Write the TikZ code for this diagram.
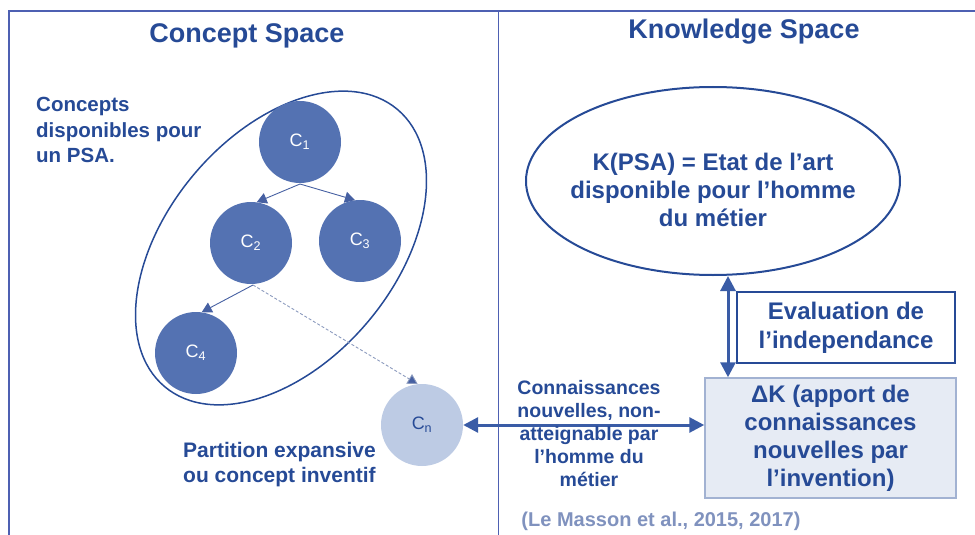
\documentclass[tikz,border=0pt]{standalone}
\usepackage{fontspec}
\setmainfont{Liberation Sans}
\usetikzlibrary{arrows.meta,shapes.geometric}
\definecolor{txtblue}{RGB}{38,74,150}
\definecolor{framecol}{RGB}{78,96,178}
\definecolor{circfill}{RGB}{84,114,178}
\definecolor{lightcirc}{RGB}{189,203,228}
\definecolor{citecol}{RGB}{128,146,190}
\definecolor{dkfill}{RGB}{230,235,244}
\definecolor{dkborder}{RGB}{162,178,210}
\definecolor{arrblue}{RGB}{58,92,166}
\definecolor{linkcol}{RGB}{70,96,162}
\definecolor{dashcol}{RGB}{140,155,190}
\newcommand{\fsz}[2]{\fontsize{#1}{#2}\selectfont}
\tikzset{
  title/.style={font=\bfseries\fsz{27}{32}, text=txtblue, inner sep=0},
  lbl/.style={font=\bfseries\fsz{20.5}{25.5}, text=txtblue, inner sep=0},
  concept/.style={circle, fill=circfill, minimum size=82pt, inner sep=0, text=white, font=\fsz{18}{20}},
  newconcept/.style={circle, fill=lightcirc, minimum size=82pt, inner sep=0, text=txtblue, font=\fsz{18}{20}},
  link/.style={draw=linkcol, line width=0.9pt, -{Triangle[length=10pt,width=11pt]}},
  biarrow/.style={draw=arrblue, line width=3pt, {Triangle[length=15pt,width=15pt]}-{Triangle[length=15pt,width=15pt]}}
}
\begin{document}
\begin{tikzpicture}[x=1pt,y=-1pt]
\useasboundingbox (0,0) rectangle (975,535);
% frame
\draw[framecol, line width=1.4pt] (9,535) -- (9,11) -- (975,11);
\draw[framecol, line width=1pt] (498,11) -- (498,535);
% titles
\node[title] (tc) at (247,36) {Concept Space};
\node[title] (tk) at (744,32) {Knowledge Space};
% concept space
\node[lbl, anchor=west, align=left] (cdisp) at (36,130) {Concepts\\disponibles pour\\un PSA.};
\node[draw=txtblue, line width=1.5pt, ellipse, minimum width=362pt, minimum height=228pt, inner sep=0, rotate=50] (cell) at (281,248) {};
\node[concept] (c1) at (300,142) {C\textsubscript{1}};
\node[concept] (c2) at (251,243) {C\textsubscript{2}};
\node[concept] (c3) at (360,241) {C\textsubscript{3}};
\node[concept] (c4) at (196,353) {C\textsubscript{4}};
\node[newconcept] (cn) at (422,425) {C\textsubscript{n}};
\coordinate (c1b) at (300,184);
\coordinate (c2b) at (253,285);
\draw[link] (c1b) -- (c2.82);
\draw[link] (c1b) -- (c3.97);
\draw[link] (c2b) -- (c4.82);
\draw[draw=dashcol, line width=0.9pt, dash pattern=on 3pt off 2pt, -{Triangle[length=10pt,width=11pt,fill=linkcol]}] (c2b) -- (cn.96);
\node[lbl, font=\bfseries\fsz{21}{25}, anchor=west, align=left] (part) at (183,465) {Partition expansive\\ou concept inventif};
% knowledge space
\node[draw=txtblue, line width=2pt, ellipse, minimum width=374pt, minimum height=188pt, inner sep=0] (kpsa) at (713,181) {};
\node[lbl, font=\bfseries\fsz{24}{28}, align=center] (kpsat) at (713,190) {K(PSA) = Etat de l’art\\disponible pour l’homme\\du métier};
\node[draw=txtblue, line width=1.8pt, fill=white, minimum width=218pt, minimum height=71pt, inner sep=0, font=\bfseries\fsz{24}{29}, text=txtblue, align=center] (eval) at (846,327.5) {Evaluation de\\l’independance};
\node[draw=dkborder, line width=1.5pt, fill=dkfill, minimum width=251pt, minimum height=120pt, inner sep=0, font=\bfseries\fsz{24}{28}, text=txtblue, align=center] (dk) at (830.5,438) {ΔK (apport de\\connaissances\\nouvelles par\\l’invention)};
\coordinate (vx) at (728,0);
\draw[biarrow] (vx |- kpsa.south) -- (vx |- dk.north);
\draw[biarrow] (cn.east) -- (cn.east -| dk.west);
\node[lbl, font=\bfseries\fsz{19.5}{23}, align=center] (conn) at (589,434) {Connaissances\\nouvelles, non-\\atteignable par\\l’homme du\\métier};
\node[font=\bfseries\fsz{20}{24}, text=citecol, inner sep=0] (cite) at (661,521) {(Le Masson et al., 2015, 2017)};
\end{tikzpicture}
\end{document}
